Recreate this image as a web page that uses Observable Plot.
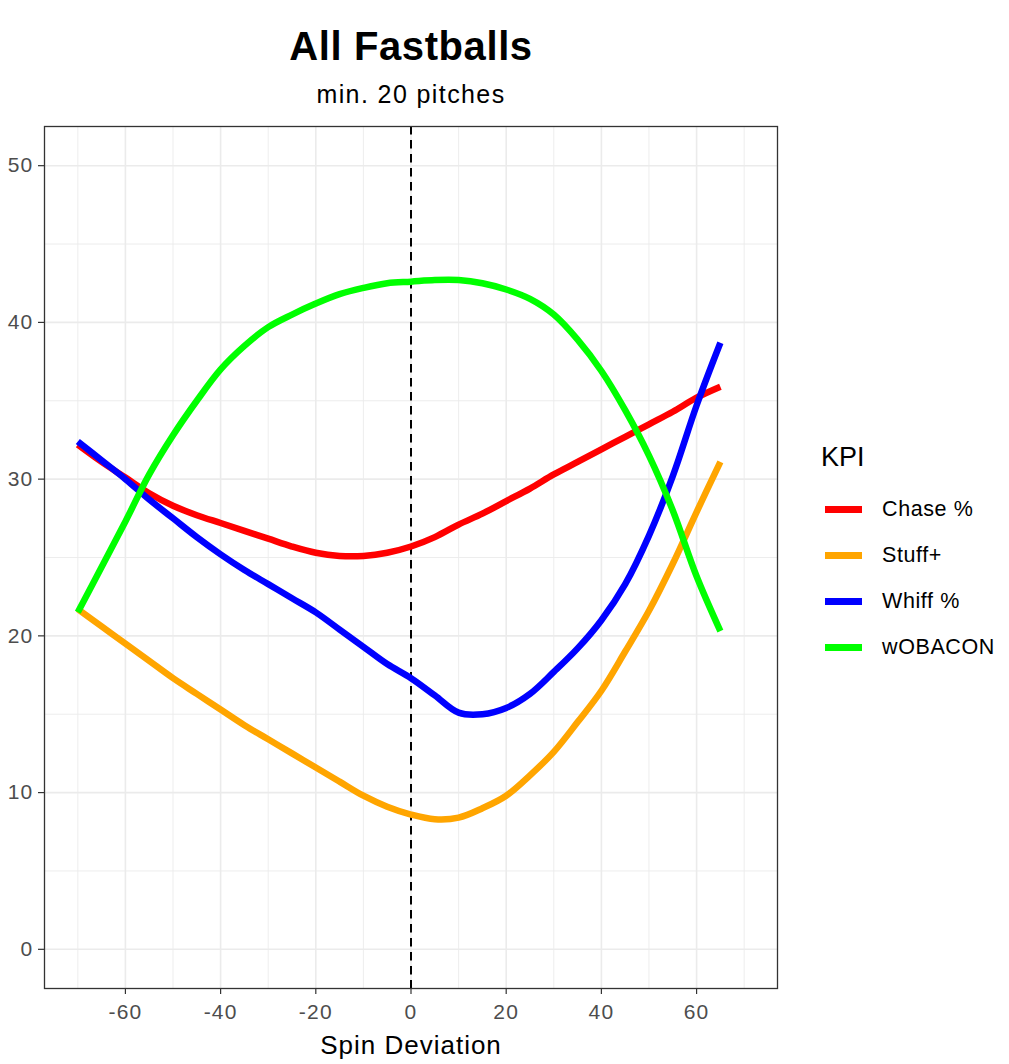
<!DOCTYPE html>
<html>
<head>
<meta charset="utf-8">
<script src="https://cdn.jsdelivr.net/npm/d3@7"></script>
<script src="https://cdn.jsdelivr.net/npm/@observablehq/plot@0.6"></script>
<style>
  html, body { margin: 0; padding: 0; background: white; }
  #wrap { position: relative; width: 1009px; height: 1064px; overflow: hidden; font-family: "Liberation Sans", Arial, sans-serif; background: white; }
  #chart { position: absolute; left: 0; top: 120px; }
  #chart svg text { letter-spacing: 1.2px; }
  .title { position: absolute; left: 0; width: 822px; text-align: center; color: #000; white-space: nowrap; }
  #t1 { top: 26px; font-size: 40px; line-height: 40px; font-weight: bold; letter-spacing: 0.6px; }
  #t2 { top: 82px; font-size: 25px; line-height: 25px; letter-spacing: 1.4px; }
  #xt { top: 1032px; font-size: 26px; line-height: 26px; letter-spacing: 1px; }
  #legend { position: absolute; left: 0; top: 0; }
  .lt { position: absolute; left: 821px; top: 444px; font-size: 27px; line-height: 27px; color: #000; }
  .row { position: absolute; left: 825px; height: 30px; display: flex; align-items: center; }
  .key { width: 37px; height: 7px; }
  .lab { margin-left: 20px; font-size: 21.5px; color: #000; letter-spacing: 0.6px; white-space: nowrap; }
</style>
</head>
<body>
<div id="wrap">
  <div class="title" id="t1">All Fastballs</div>
  <div class="title" id="t2">min. 20 pitches</div>
  <div id="chart"></div>
  <div class="title" id="xt">Spin Deviation</div>
  <div id="legend"></div>
</div>
<script>
// ---- data ----
const spin = [-70,-65,-60,-55,-50,-45,-40,-35,-30,-25,-20,-15,-10,-5,0,5,10,15,20,25,30,35,40,45,50,55,60,65];
const chase   = [32.2,31.1,30.1,29.1,28.3,27.7,27.2,26.7,26.2,25.7,25.3,25.1,25.1,25.3,25.7,26.3,27.1,27.8,28.6,29.4,30.3,31.1,31.9,32.7,33.5,34.3,35.2,35.9];
const stuff   = [21.7,20.6,19.5,18.4,17.3,16.3,15.3,14.3,13.4,12.5,11.6,10.7,9.8,9.1,8.6,8.3,8.4,9.0,9.8,11.1,12.6,14.5,16.5,19.0,21.6,24.6,27.9,31.1];
const whiff   = [32.4,31.2,30.0,28.7,27.5,26.3,25.2,24.2,23.3,22.4,21.5,20.4,19.3,18.2,17.3,16.2,15.1,15.0,15.4,16.3,17.7,19.2,21.0,23.3,26.4,30.2,34.7,38.7];
const wobacon = [21.5,24.4,27.3,30.3,32.8,35.0,37.0,38.5,39.7,40.5,41.2,41.8,42.2,42.5,42.6,42.7,42.7,42.5,42.1,41.5,40.5,38.9,36.9,34.4,31.5,28.0,23.8,20.3];
const kpiNames = ["Chase %", "Stuff+", "Whiff %", "wOBACON"];
const xTicks = [-60,-40,-20,0,20,40,60];
const xMinor = [-70,-50,-30,-10,10,30,50,70];
const yTicks = [0,10,20,30,40,50];
const yMinor = [5,15,25,35,45];
const legendTitle = "KPI";

// ---- build table ----
const seriesValues = [chase, stuff, whiff, wobacon];
const rows = [];
kpiNames.forEach((k, j) => spin.forEach((s, i) => rows.push({kpi: k, x: s, y: seriesValues[j][i]})));

const kpiColors = ["#FF0000", "#FFA500", "#0000FF", "#00FF00"];

const lineMarks = kpiNames.map(k =>
  Plot.line(rows.filter(d => d.kpi === k), {
    x: "x", y: "y", stroke: "kpi", strokeWidth: 6.5,
    curve: "catmull-rom", strokeLinecap: "butt", strokeLinejoin: "round"
  })
);

const fmt = d => String(d);

const plot = Plot.plot({
  width: 1009,
  height: 944,
  marginTop: 6,
  marginBottom: 76,
  marginLeft: 44,
  marginRight: 232,
  style: {fontFamily: "'Liberation Sans', Arial, sans-serif", fontSize: "21px", background: "white", color: "#4D4D4D"},
  x: {domain: [-77, 77]},
  y: {domain: [-2.5, 52.5]},
  color: {domain: kpiNames, range: kpiColors},
  marks: [
    Plot.gridX(xMinor, {stroke: "#EBEBEB", strokeOpacity: 1, strokeWidth: 0.9}),
    Plot.gridY(yMinor, {stroke: "#EBEBEB", strokeOpacity: 1, strokeWidth: 0.9}),
    Plot.gridX(xTicks, {stroke: "#EBEBEB", strokeOpacity: 1, strokeWidth: 1.6}),
    Plot.gridY(yTicks, {stroke: "#EBEBEB", strokeOpacity: 1, strokeWidth: 1.6}),
    Plot.ruleX([0], {stroke: "black", strokeWidth: 2, strokeDasharray: "8.5,5.5"}),
    ...lineMarks,
    Plot.frame({stroke: "#333333", strokeWidth: 1.3}),
    Plot.axisX(xTicks, {tickSize: 6, tickPadding: 10, stroke: "#333333", strokeWidth: 1.2, fill: "#4D4D4D", label: null, fontSize: 21, tickFormat: fmt}),
    Plot.axisY(yTicks, {tickSize: 6, tickPadding: 5, stroke: "#333333", strokeWidth: 1.2, fill: "#4D4D4D", label: null, fontSize: 21, tickFormat: fmt})
  ]
});
document.getElementById("chart").appendChild(plot);

// ---- legend ----
const legend = document.getElementById("legend");
const lt = document.createElement("div");
lt.className = "lt";
lt.textContent = legendTitle;
legend.appendChild(lt);
const rowCenters = [509.5, 555.5, 601.5, 647.5];
kpiNames.forEach((k, i) => {
  const r = document.createElement("div");
  r.className = "row";
  r.style.top = (rowCenters[i] - 15) + "px";
  const key = document.createElement("div");
  key.className = "key";
  key.style.background = kpiColors[i];
  const lab = document.createElement("div");
  lab.className = "lab";
  lab.textContent = k;
  r.appendChild(key);
  r.appendChild(lab);
  legend.appendChild(r);
});
</script>
</body>
</html>
